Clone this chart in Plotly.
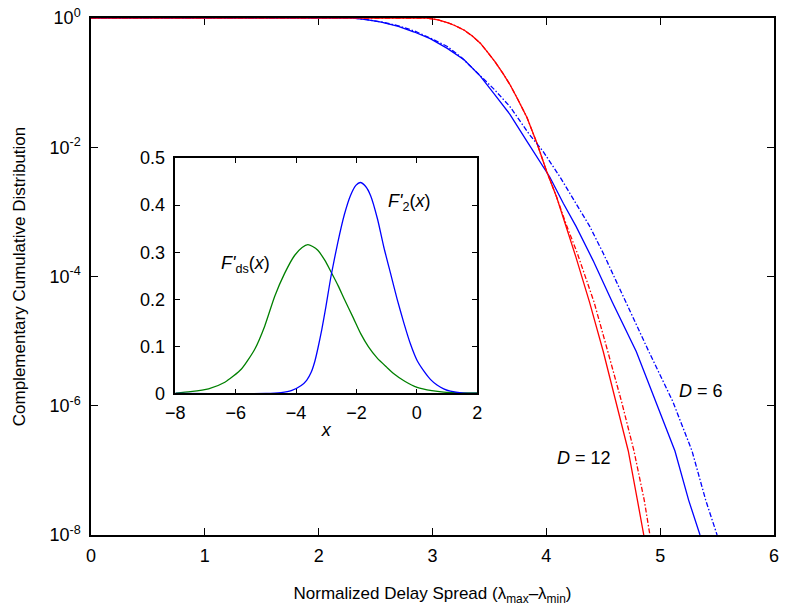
import plotly.graph_objects as go

# ---- main chart data (x, log10 of CCDF) ----
red_solid_x = [0.0, 2.95, 3.05, 3.13, 3.20, 3.28, 3.35, 3.42, 3.48, 3.55, 3.62, 3.68, 3.75, 3.83, 3.92, 4.00, 4.09, 4.18, 4.26, 4.38, 4.50, 4.61, 4.72, 4.80, 4.856]
red_solid_lg = [0.0, 0.0, -0.03, -0.07, -0.12, -0.19, -0.28, -0.39, -0.52, -0.68, -0.86, -1.03, -1.26, -1.54, -1.95, -2.36, -2.77, -3.26, -3.70, -4.40, -5.16, -5.93, -6.70, -7.46, -8.0]

red_dash_x = [0.0, 2.95, 3.05, 3.13, 3.20, 3.28, 3.35, 3.42, 3.48, 3.55, 3.62, 3.68, 3.75, 3.83, 3.92, 4.00, 4.09, 4.18, 4.27, 4.42, 4.54, 4.66, 4.77, 4.86, 4.91]
red_dash_lg = [0.0, 0.0, -0.03, -0.07, -0.12, -0.19, -0.28, -0.39, -0.52, -0.68, -0.86, -1.03, -1.26, -1.54, -1.95, -2.36, -2.77, -3.22, -3.63, -4.40, -5.16, -5.93, -6.70, -7.46, -8.0]

blue_solid_x = [0.0, 2.30, 2.42, 2.55, 2.70, 2.84, 2.98, 3.13, 3.28, 3.42, 3.54, 3.68, 3.83, 3.94, 4.03, 4.15, 4.26, 4.41, 4.58, 4.79, 4.96, 5.13, 5.25, 5.35]
blue_solid_lg = [0.0, 0.0, -0.025, -0.064, -0.13, -0.217, -0.32, -0.47, -0.65, -0.90, -1.17, -1.49, -1.91, -2.21, -2.46, -2.87, -3.22, -3.75, -4.40, -5.16, -5.93, -6.70, -7.46, -8.0]

blue_dash_x = [0.0, 2.30, 2.42, 2.55, 2.70, 2.84, 2.98, 3.13, 3.26, 3.39, 3.54, 3.68, 3.85, 3.97, 4.12, 4.26, 4.38, 4.50, 4.70, 4.90, 5.11, 5.28, 5.40, 5.50]
blue_dash_lg = [0.0, 0.0, -0.025, -0.06, -0.12, -0.20, -0.31, -0.44, -0.62, -0.84, -1.10, -1.37, -1.80, -2.06, -2.46, -2.87, -3.22, -3.64, -4.40, -5.16, -5.93, -6.70, -7.46, -8.0]

main_xticks = [0, 1, 2, 3, 4, 5, 6]
main_ytick_exp = [0, -2, -4, -6, -8]

# ---- inset data ----
green_x = [-8.0, -7.5, -6.90, -6.36, -5.81, -5.37, -5.04, -4.71, -4.38, -4.05, -3.80, -3.61, -3.45, -3.28, -3.05, -2.84, -2.60, -2.40, -2.10, -1.85, -1.60, -1.31, -1.00, -0.76, -0.40, 0.01, 0.5, 0.89, 1.5, 2.0]
green_y = [0.001, 0.004, 0.010, 0.024, 0.052, 0.094, 0.143, 0.206, 0.255, 0.293, 0.310, 0.316, 0.312, 0.304, 0.283, 0.258, 0.228, 0.200, 0.160, 0.126, 0.099, 0.075, 0.056, 0.042, 0.026, 0.013, 0.006, 0.003, 0.0015, 0.001]

blue_x = [-8.0, -5.0, -4.5, -4.16, -3.83, -3.65, -3.50, -3.38, -3.28, -3.15, -3.01, -2.84, -2.62, -2.40, -2.20, -2.02, -1.87, -1.70, -1.53, -1.30, -1.09, -0.87, -0.65, -0.43, -0.21, 0.01, 0.23, 0.45, 0.67, 0.89, 1.11, 1.54, 2.0]
blue_y = [0.0, 0.0, 0.002, 0.006, 0.017, 0.028, 0.045, 0.068, 0.095, 0.135, 0.185, 0.25, 0.32, 0.38, 0.42, 0.442, 0.448, 0.44, 0.42, 0.37, 0.31, 0.255, 0.20, 0.15, 0.105, 0.07, 0.048, 0.03, 0.018, 0.01, 0.005, 0.001, 0.0003]

inset_xticks = [-8, -6, -4, -2, 0, 2]
inset_yticks = [0, 0.1, 0.2, 0.3, 0.4, 0.5]

FONT = "Liberation Sans, Arial, Helvetica, sans-serif"
RED = "#FF0000"
BLUE = "#0000FF"
GREEN = "#008000"
DASHDOT = "5px,2px,1.5px,2px"

fig = go.Figure()

def pw(v):
    return [10 ** e for e in v]

main_line = dict(width=1.3)
fig.add_trace(go.Scatter(x=blue_solid_x, y=pw(blue_solid_lg), mode="lines", line=dict(color=BLUE, **main_line), xaxis="x", yaxis="y"))
fig.add_trace(go.Scatter(x=red_solid_x, y=pw(red_solid_lg), mode="lines", line=dict(color=RED, **main_line), xaxis="x", yaxis="y"))
fig.add_trace(go.Scatter(x=blue_dash_x, y=pw(blue_dash_lg), mode="lines", line=dict(color=BLUE, dash=DASHDOT, **main_line), xaxis="x", yaxis="y"))
fig.add_trace(go.Scatter(x=red_dash_x, y=pw(red_dash_lg), mode="lines", line=dict(color=RED, dash=DASHDOT, **main_line), xaxis="x", yaxis="y"))

fig.add_trace(go.Scatter(x=green_x, y=green_y, mode="lines", line=dict(color=GREEN, width=1.3, shape="spline", smoothing=0.6), xaxis="x2", yaxis="y2"))
fig.add_trace(go.Scatter(x=blue_x, y=blue_y, mode="lines", line=dict(color=BLUE, width=1.3, shape="spline", smoothing=0.6), xaxis="x2", yaxis="y2"))

axis_common = dict(showline=True, linecolor="black", linewidth=1.5, mirror="ticks", ticks="inside",
                   tickcolor="black", showgrid=False, zeroline=False, tickfont=dict(family=FONT, size=18, color="black"))

fig.update_layout(
    width=785, height=608,
    margin=dict(l=91, r=6, t=12, b=73),
    paper_bgcolor="white", plot_bgcolor="white",
    showlegend=False,
    font=dict(family=FONT, color="black"),
    xaxis=dict(domain=[0, 1], range=[0, 6], tickvals=main_xticks, ticklen=7, layer="below traces",
               ticklabelstandoff=4,
               title=dict(text="Normalized Delay Spread (λ<sub>max</sub>–λ<sub>min</sub>)", font=dict(family=FONT, size=17), standoff=22),
               **axis_common),
    yaxis=dict(domain=[0, 1], type="log", range=[-8, 0], tickvals=[10 ** e for e in main_ytick_exp],
               ticktext=["10<sup>%d</sup>" % e for e in main_ytick_exp], ticklen=7, layer="below traces",
               ticklabelstandoff=5,
               title=dict(text="Complementary Cumulative Distribution", font=dict(family=FONT, size=17), standoff=19),
               **axis_common),
    xaxis2=dict(domain=[0.1235, 0.5654], range=[-8, 2], tickvals=inset_xticks, ticklen=5, anchor="y2",
                ticklabelstandoff=2,
                title=dict(text="<i>x</i>", font=dict(family=FONT, size=18), standoff=2),
                **axis_common),
    yaxis2=dict(domain=[0.2737, 0.7292], range=[0, 0.5], tickvals=inset_yticks, ticktext=["0", "0.1", "0.2", "0.3", "0.4", "0.5"],
                ticklen=5, anchor="x2", ticklabelstandoff=5, **axis_common),
)

ann_font = dict(family=FONT, size=18, color="black")
# annotations on a log axis take log10 positions
fig.add_annotation(x=5.36, y=-5.77, xref="x", yref="y", text="<i>D</i> = 6", showarrow=False, font=ann_font)
fig.add_annotation(x=4.33, y=-6.81, xref="x", yref="y", text="<i>D</i> = 12", showarrow=False, font=ann_font)
fig.add_annotation(x=-0.25, y=0.405, xref="x2", yref="y2", text="<i>F'</i><sub>2</sub>(<i>x</i>)", showarrow=False, font=ann_font)
fig.add_annotation(x=-5.68, y=0.273, xref="x2", yref="y2", text="<i>F'</i><sub>ds</sub>(<i>x</i>)", showarrow=False, font=ann_font)

fig.write_html("out.html")
